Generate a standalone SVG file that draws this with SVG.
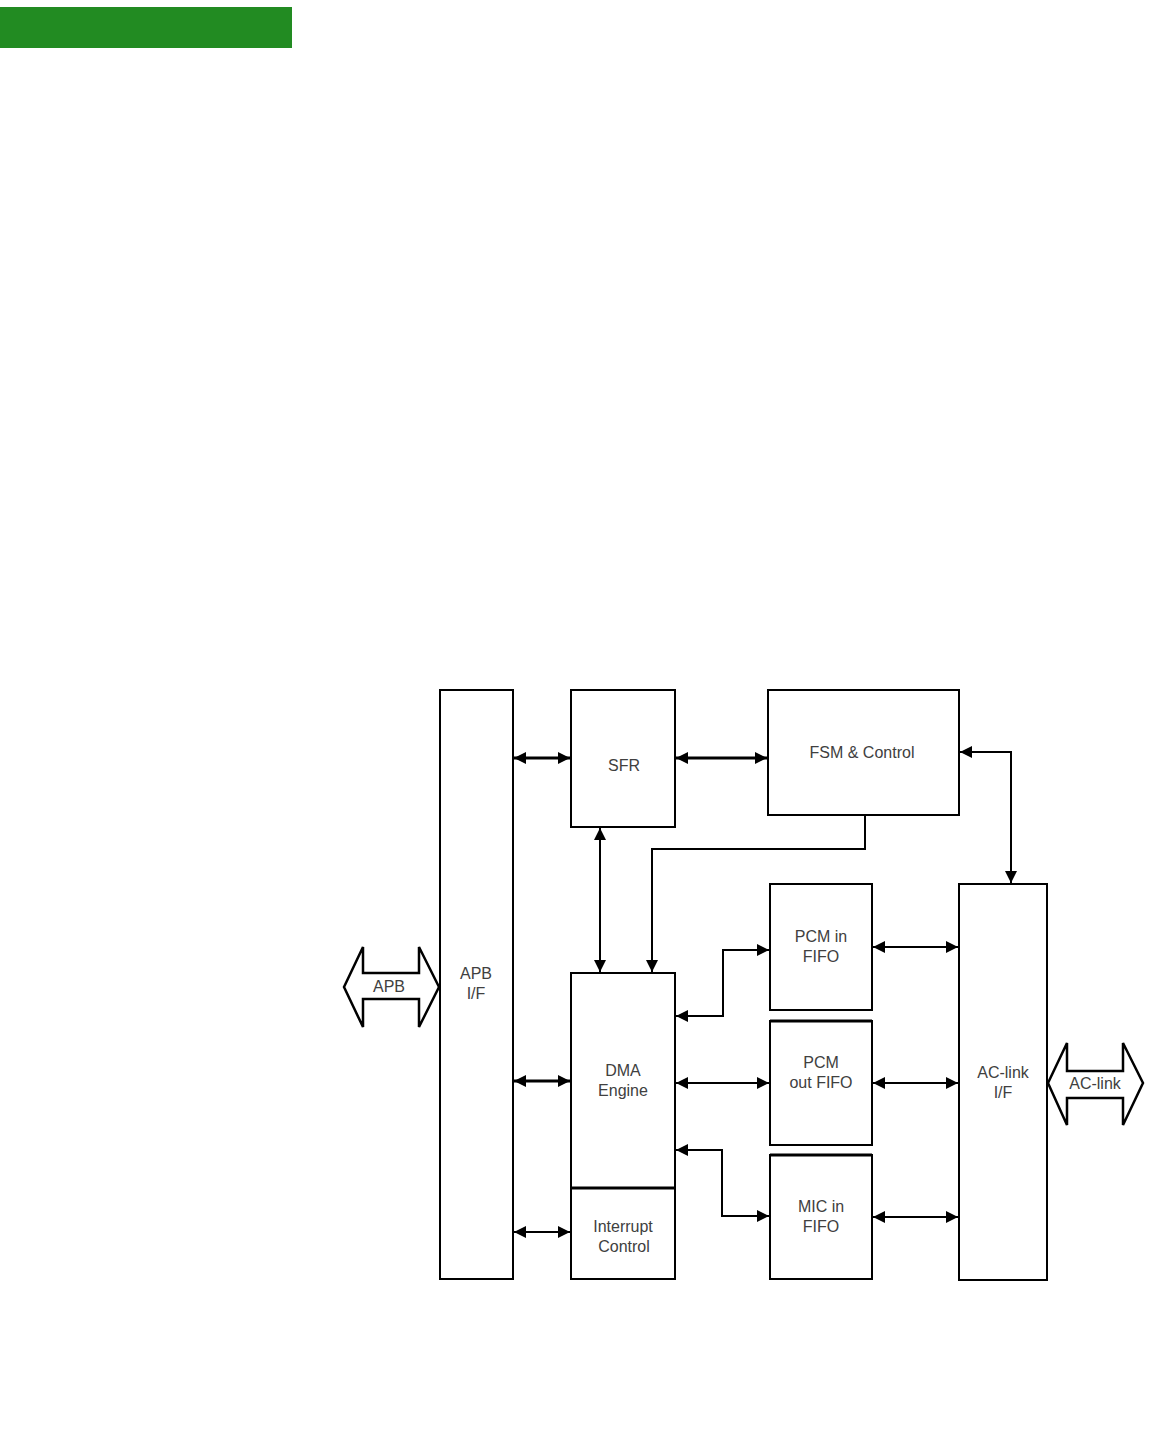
<svg xmlns="http://www.w3.org/2000/svg" width="1154" height="1449" viewBox="0 0 1154 1449">
<style>
.box{fill:#fff;stroke:#000;stroke-width:2}
.t{font-family:"Liberation Sans",Arial,sans-serif;font-size:16px;fill:#404040;text-anchor:middle}
.c{fill:none;stroke:#000;stroke-width:2}
.ck{fill:none;stroke:#000;stroke-width:3}
.ba{fill:#fff;stroke:#000;stroke-width:2.5;stroke-linejoin:miter}
</style>
<defs>
<marker id="ah" viewBox="0 0 10 10" refX="10" refY="5" markerWidth="12" markerHeight="12" markerUnits="userSpaceOnUse" orient="auto-start-reverse">
<path d="M0,0 L10,5 L0,10 z" fill="#000"/>
</marker>
</defs>
<rect x="0" y="7" width="292" height="41" fill="#228B22"/>

<g id="connectors">
<line class="ck" x1="514" y1="758" x2="570" y2="758" marker-start="url(#ah)" marker-end="url(#ah)"/>
<line class="ck" x1="676" y1="758" x2="767" y2="758" marker-start="url(#ah)" marker-end="url(#ah)"/>
<polyline class="c" points="960,752 1011,752 1011,883" marker-start="url(#ah)" marker-end="url(#ah)"/>
<line class="c" x1="600" y1="828" x2="600" y2="972" marker-start="url(#ah)" marker-end="url(#ah)"/>
<polyline class="c" points="865,816 865,849 652,849 652,972" marker-end="url(#ah)"/>
<line class="ck" x1="514" y1="1081" x2="570" y2="1081" marker-start="url(#ah)" marker-end="url(#ah)"/>
<line class="c" x1="514" y1="1232" x2="570" y2="1232" marker-start="url(#ah)" marker-end="url(#ah)"/>
<polyline class="c" points="676,1016 723,1016 723,950 769,950" marker-start="url(#ah)" marker-end="url(#ah)"/>
<line class="c" x1="676" y1="1083" x2="769" y2="1083" marker-start="url(#ah)" marker-end="url(#ah)"/>
<polyline class="c" points="676,1150 722,1150 722,1216 769,1216" marker-start="url(#ah)" marker-end="url(#ah)"/>
<line class="c" x1="873" y1="947" x2="958" y2="947" marker-start="url(#ah)" marker-end="url(#ah)"/>
<line class="c" x1="873" y1="1083" x2="958" y2="1083" marker-start="url(#ah)" marker-end="url(#ah)"/>
<line class="c" x1="873" y1="1217" x2="958" y2="1217" marker-start="url(#ah)" marker-end="url(#ah)"/>
</g>

<g id="apb-bus">
<polygon class="ba" points="344,987 363,947 363,973 419,973 419,947 439,987 419,1027 419,999 363,999 363,1027"/>
<text class="t" x="389" y="992">APB</text>
</g>
<g id="aclink-bus">
<polygon class="ba" points="1048,1083 1067,1043 1067,1071 1123,1071 1123,1043 1143,1083 1123,1125 1123,1098 1067,1098 1067,1125"/>
<text class="t" x="1095" y="1089">AC-link</text>
</g>

<g id="apb-if">
<rect class="box" x="440" y="690" width="73" height="589"/>
<text class="t" x="476" y="979">APB</text>
<text class="t" x="476" y="999">I/F</text>
</g>
<g id="sfr">
<rect class="box" x="571" y="690" width="104" height="137"/>
<text class="t" x="624" y="771">SFR</text>
</g>
<g id="fsm">
<rect class="box" x="768" y="690" width="191" height="125"/>
<text class="t" x="862" y="758">FSM &amp; Control</text>
</g>
<g id="dma">
<rect class="box" x="571" y="973" width="104" height="215"/>
<text class="t" x="623" y="1076">DMA</text>
<text class="t" x="623" y="1096">Engine</text>
</g>
<g id="interrupt">
<rect class="box" x="571" y="1188" width="104" height="91"/>
<line x1="571" y1="1188" x2="675" y2="1188" stroke="#000" stroke-width="3"/>
<text class="t" x="623" y="1232">Interrupt</text>
<text class="t" x="624" y="1252">Control</text>
</g>
<g id="pcm-in">
<rect class="box" x="770" y="884" width="102" height="126"/>
<text class="t" x="821" y="942">PCM in</text>
<text class="t" x="821" y="962">FIFO</text>
</g>
<g id="pcm-out">
<rect class="box" x="770" y="1021" width="102" height="124"/>
<line x1="770" y1="1021" x2="872" y2="1021" stroke="#000" stroke-width="3"/>
<text class="t" x="821" y="1068">PCM</text>
<text class="t" x="821" y="1088">out FIFO</text>
</g>
<g id="mic-in">
<rect class="box" x="770" y="1155" width="102" height="124"/>
<line x1="770" y1="1155" x2="872" y2="1155" stroke="#000" stroke-width="3"/>
<text class="t" x="821" y="1212">MIC in</text>
<text class="t" x="821" y="1232">FIFO</text>
</g>
<g id="aclink-if">
<rect class="box" x="959" y="884" width="88" height="396"/>
<text class="t" x="1003" y="1078">AC-link</text>
<text class="t" x="1003" y="1098">I/F</text>
</g>
</svg>
